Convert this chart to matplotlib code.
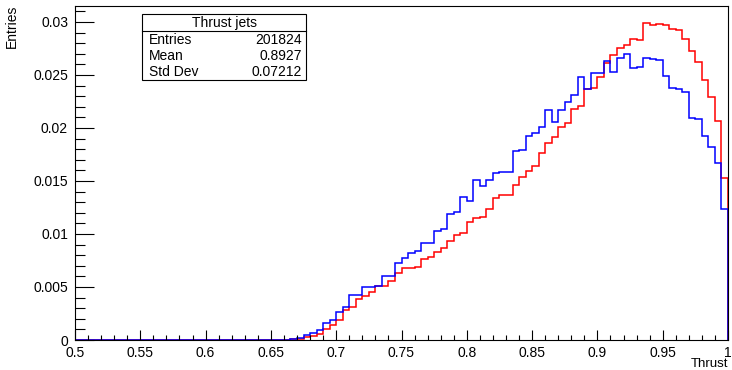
import numpy as np
import matplotlib.pyplot as plt
from matplotlib.ticker import MultipleLocator, FuncFormatter
from matplotlib.patches import Rectangle

plt.rcParams['font.family'] = ['Liberation Sans', 'DejaVu Sans']

# 100 bins from 0.5 to 1.0, bins below 0.66 are empty
edges = np.linspace(0.5, 1.0, 101)
n_empty = 32

red_hist = [0.00002, 0.00005, 0.0001, 0.0003, 0.0004, 0.0006, 0.0010, 0.0014,
            0.0019, 0.0028, 0.0031, 0.0039, 0.00415, 0.0045, 0.0051, 0.0051,
            0.0056, 0.0063, 0.0068, 0.0068, 0.0069, 0.0076, 0.0078, 0.0083,
            0.0087, 0.0093, 0.0099, 0.0101, 0.0111, 0.0115, 0.0116, 0.0124,
            0.0134, 0.0137, 0.0137, 0.0146, 0.0154, 0.0159, 0.0164, 0.0176,
            0.0186, 0.0191, 0.0201, 0.0205, 0.0218, 0.0221, 0.0237, 0.0238,
            0.0248, 0.0261, 0.0269, 0.0275, 0.0278, 0.0284, 0.0283, 0.0299,
            0.0297, 0.0298, 0.0297, 0.0293, 0.0292, 0.0284, 0.0273, 0.0262,
            0.0245, 0.0229, 0.0207, 0.0153]

blue_hist = [0.00002, 0.00006, 0.00016, 0.00044, 0.00063, 0.00094, 0.00157, 0.00189,
             0.00267, 0.00308, 0.00425, 0.00425, 0.00503, 0.00503, 0.00509, 0.00604,
             0.00604, 0.00723, 0.00776, 0.00818, 0.00843, 0.00918, 0.00918, 0.01031,
             0.01044, 0.01189, 0.01211, 0.01346, 0.01314, 0.01509, 0.01453, 0.01509,
             0.01578, 0.01582, 0.01582, 0.01786, 0.01792, 0.01925, 0.01950, 0.02006,
             0.02170, 0.02057, 0.02170, 0.02248, 0.02308, 0.02481, 0.02368, 0.02516,
             0.02516, 0.02635, 0.02525, 0.02657, 0.02695, 0.02569, 0.02579, 0.02664,
             0.02654, 0.02642, 0.02491, 0.02374, 0.02368, 0.02343, 0.02097, 0.02085,
             0.01927, 0.01824, 0.01667, 0.01233]

stats_title = "Thrust jets"
stats_names = ["Entries", "Mean", "Std Dev"]
stats_values = ["201824", "0.8927", "0.07212"]

red = np.array([0.0] * n_empty + red_hist)
blue = np.array([0.0] * n_empty + blue_hist)

W, H = 732, 370
def fx(px):
    return px / W
def fy(py):
    return 1 - py / H

fs = 10
fig = plt.figure(figsize=(W / 100, H / 100), dpi=100)
ax = fig.add_axes([fx(75), fy(340), (728 - 75) / W, (340 - 6) / H])

ax.stairs(red, edges, color='#ff0000', lw=1.1)
ax.stairs(blue, edges, color='#0000ff', lw=1.1)

ax.set_xlim(0.5, 1.0)
ax.set_ylim(0, 0.0315)

ax.xaxis.set_major_locator(MultipleLocator(0.05))
ax.xaxis.set_minor_locator(MultipleLocator(0.01))
ax.yaxis.set_major_locator(MultipleLocator(0.005))
ax.yaxis.set_minor_locator(MultipleLocator(0.001))
fmt = FuncFormatter(lambda v, p: '%g' % round(v, 4))
ax.xaxis.set_major_formatter(fmt)
ax.yaxis.set_major_formatter(fmt)

ax.tick_params(which='both', direction='in', top=False, right=False,
               width=0.8, labelsize=fs)
ax.tick_params(axis='x', which='major', length=7.5, pad=4)
ax.tick_params(axis='x', which='minor', length=3.8)
ax.tick_params(axis='y', which='major', length=14, pad=5)
ax.tick_params(axis='y', which='minor', length=7)
for s in ax.spines.values():
    s.set_linewidth(0.8)

fig.text(fx(12), fy(5), "Entries", rotation=90, ha='center', va='top', fontsize=fs)
fig.text(fx(728), fy(370), "Thrust", ha='right', va='bottom', fontsize=9.5)

# stats box
fig.patches.append(Rectangle((fx(142), fy(80)), (306 - 142) / W, (80 - 14) / H,
                             transform=fig.transFigure, fill=True, fc='white',
                             ec='black', lw=0.8, zorder=5))
fig.lines.append(plt.Line2D([fx(142), fx(306)], [fy(31), fy(31)],
                            transform=fig.transFigure, color='black', lw=0.8, zorder=6))
fig.text(fx(224), fy(22.5), stats_title, ha='center', va='center', fontsize=fs, zorder=7)
for i, (name, val) in enumerate(zip(stats_names, stats_values)):
    y = 39.5 + i * 16
    fig.text(fx(149), fy(y), name, ha='left', va='center', fontsize=fs, zorder=7)
    fig.text(fx(302), fy(y), val, ha='right', va='center', fontsize=fs, zorder=7)

fig.savefig('out.png', dpi=100)
